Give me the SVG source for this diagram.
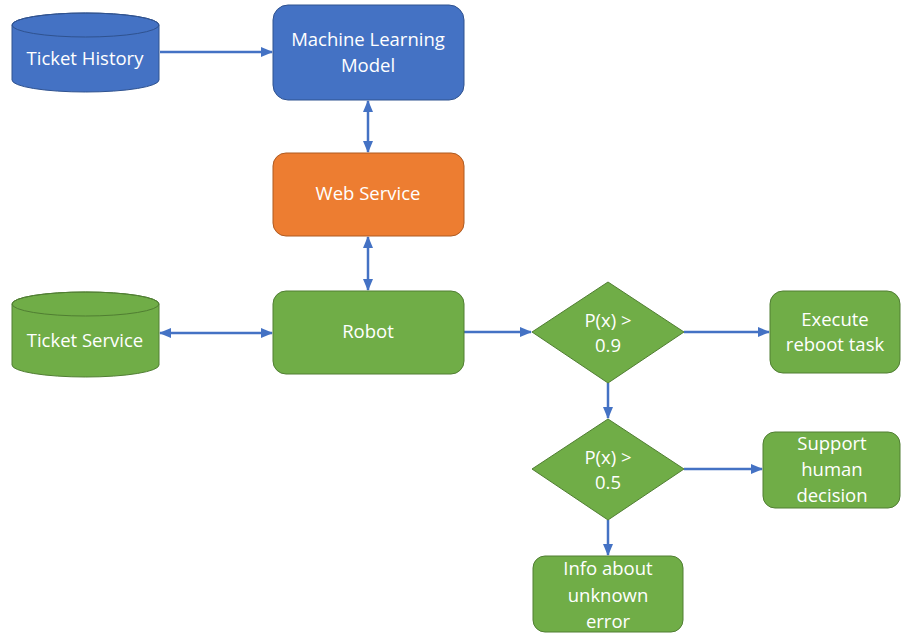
<svg xmlns="http://www.w3.org/2000/svg" width="901" height="633" viewBox="0 0 901 633">
  <defs>
    <marker id="arrowEnd" markerUnits="userSpaceOnUse" markerWidth="12" markerHeight="12" viewBox="0 0 12 12" refX="11" refY="6" orient="auto">
      <path d="M0,1 L12,6 L0,11 Z" fill="#4472C4"/>
    </marker>
    <marker id="arrowStart" markerUnits="userSpaceOnUse" markerWidth="12" markerHeight="12" viewBox="0 0 12 12" refX="1" refY="6" orient="auto">
      <path d="M12,1 L0,6 L12,11 Z" fill="#4472C4"/>
    </marker>
  </defs>
  <style>
    .blue { fill: #4472C4; stroke: #2F528F; stroke-width: 1; }
    .orange { fill: #ED7D31; stroke: #AE5A21; stroke-width: 1; }
    .green { fill: #70AD47; stroke: #507E32; stroke-width: 1; }
    .label { font-family: "Open Sans", "Noto Sans", sans-serif; font-size: 18.5px; fill: #FFFFFF; text-anchor: middle; }
    .conn { fill: none; stroke: #4472C4; stroke-width: 2.5; }
  </style>
  <rect width="901" height="633" fill="#FFFFFF"/>

  <!-- connectors -->
  <g id="connectors">
    <line class="conn" x1="160" y1="52" x2="272" y2="52" marker-end="url(#arrowEnd)"/>
    <line class="conn" x1="368" y1="101" x2="368" y2="152" marker-start="url(#arrowStart)" marker-end="url(#arrowEnd)"/>
    <line class="conn" x1="368" y1="237" x2="368" y2="290" marker-start="url(#arrowStart)" marker-end="url(#arrowEnd)"/>
    <line class="conn" x1="160" y1="333" x2="272" y2="333" marker-start="url(#arrowStart)" marker-end="url(#arrowEnd)"/>
    <line class="conn" x1="464" y1="332" x2="531" y2="332" marker-end="url(#arrowEnd)"/>
    <line class="conn" x1="684" y1="332" x2="769" y2="332" marker-end="url(#arrowEnd)"/>
    <line class="conn" x1="608" y1="383" x2="608" y2="418" marker-end="url(#arrowEnd)"/>
    <line class="conn" x1="684" y1="469" x2="762" y2="469" marker-end="url(#arrowEnd)"/>
    <line class="conn" x1="608" y1="520" x2="608" y2="555" marker-end="url(#arrowEnd)"/>
  </g>

  <!-- Ticket History (database) -->
  <g id="ticket-history">
    <path class="blue" d="M12,25 L12,80 A73.5,12 0 0 0 159,80 L159,25 A73.5,12 0 0 0 12,25 Z"/>
    <ellipse cx="85.5" cy="25" rx="73.5" ry="12" fill="none" stroke="#2F528F" stroke-width="1"/>
    <text class="label" x="85" y="65">Ticket History</text>
  </g>

  <!-- Machine Learning Model -->
  <g id="ml-model">
    <rect class="blue" x="273" y="5" width="191" height="95" rx="15" ry="15"/>
    <text class="label" x="368" y="46">Machine Learning</text>
    <text class="label" x="368" y="72">Model</text>
  </g>

  <!-- Web Service -->
  <g id="web-service">
    <rect class="orange" x="273" y="153" width="191" height="83" rx="13" ry="13"/>
    <text class="label" x="368" y="200">Web Service</text>
  </g>

  <!-- Ticket Service (database) -->
  <g id="ticket-service">
    <path class="green" d="M12,304 L12,365 A73.5,12 0 0 0 159,365 L159,304 A73.5,12 0 0 0 12,304 Z"/>
    <ellipse cx="85.5" cy="304" rx="73.5" ry="12" fill="none" stroke="#507E32" stroke-width="1"/>
    <text class="label" x="85" y="347">Ticket Service</text>
  </g>

  <!-- Robot -->
  <g id="robot">
    <rect class="green" x="273" y="291" width="191" height="83" rx="13" ry="13"/>
    <text class="label" x="368" y="338">Robot</text>
  </g>

  <!-- Decision: P(x) > 0.9 -->
  <g id="decision-09">
    <polygon class="green" points="608,282 684,332 608,383 532,332"/>
    <text class="label" x="608" y="327">P(x) &gt;</text>
    <text class="label" x="608" y="352">0.9</text>
  </g>

  <!-- Execute reboot task -->
  <g id="execute-reboot">
    <rect class="green" x="770" y="291" width="130" height="82" rx="13" ry="13"/>
    <text class="label" x="835" y="326">Execute</text>
    <text class="label" x="835" y="351">reboot task</text>
  </g>

  <!-- Decision: P(x) > 0.5 -->
  <g id="decision-05">
    <polygon class="green" points="608,419 684,469 608,520 532,469"/>
    <text class="label" x="608" y="464">P(x) &gt;</text>
    <text class="label" x="608" y="489">0.5</text>
  </g>

  <!-- Support human decision -->
  <g id="support-human">
    <rect class="green" x="763" y="432" width="137" height="76" rx="12" ry="12"/>
    <text class="label" x="832" y="450">Support</text>
    <text class="label" x="832" y="476">human</text>
    <text class="label" x="832" y="502">decision</text>
  </g>

  <!-- Info about unknown error -->
  <g id="info-unknown">
    <rect class="green" x="533" y="556" width="150" height="76" rx="12" ry="12"/>
    <text class="label" x="608" y="575">Info about</text>
    <text class="label" x="608" y="602">unknown</text>
    <text class="label" x="608" y="628">error</text>
  </g>
</svg>
